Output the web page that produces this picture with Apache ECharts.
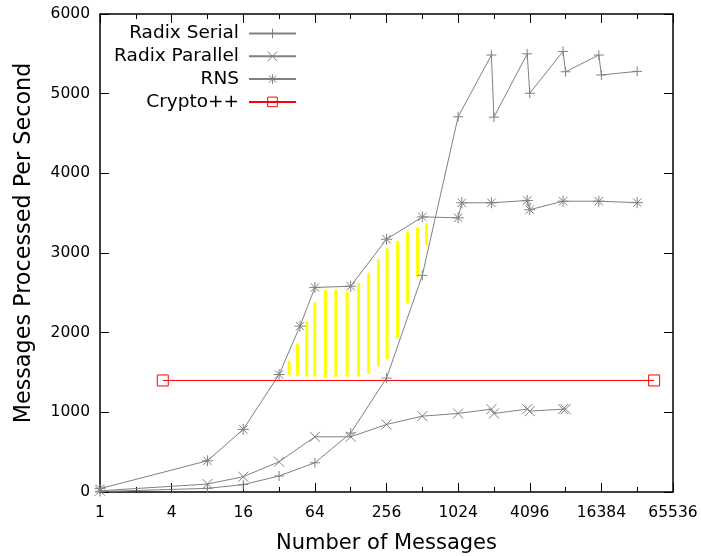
<!DOCTYPE html>
<html>
<head>
<meta charset="utf-8">
<script src="https://cdn.jsdelivr.net/npm/echarts@6/dist/echarts.min.js"></script>
<style>
  html, body { margin: 0; padding: 0; background: #fff; }
  #chart { width: 701px; height: 556px; }
</style>
</head>
<body>
<div id="chart"></div>
<script>
// Throughput versus batch size (messages), log2 x axis.
const serialX   = [1, 8, 16, 32, 64, 128, 256, 512, 1024, 1950, 2048, 3900, 4096, 7800, 8192, 15600, 16384, 32768];
const serialY   = [5, 46, 92, 201, 367, 740, 1430, 2720, 4710, 5485, 4705, 5500, 5005, 5530, 5275, 5485, 5235, 5280];

const parallelX = [1, 8, 16, 32, 64, 128, 256, 512, 1024, 1950, 2048, 3900, 4096, 7800, 8192];
const parallelY = [15, 100, 192, 380, 693, 693, 848, 952, 986, 1040, 986, 1040, 1015, 1040, 1040];

const rnsX      = [1, 8, 16, 32, 48, 64, 128, 256, 512, 1024, 1100, 1950, 3900, 4096, 7800, 15600, 32768];
const rnsY      = [42, 392, 786, 1475, 2082, 2567, 2583, 3173, 3453, 3442, 3630, 3630, 3659, 3543, 3650, 3650, 3632];

const cryptoX   = [3.37, 45500];
const cryptoY   = [1400, 1400];

// Highlighted band between the RNS curve and the baseline / serial curve
const bandX     = [38.8, 45.6, 54.7, 63.9, 78.4, 96.1, 119.6, 149.2, 181, 218.9, 259, 317, 385, 467, 556];
const bandLow   = [1469, 1460, 1447, 1447, 1440, 1447, 1447, 1447, 1481, 1582, 1666, 1937, 2369, 2702, 3100];
const bandHigh  = [1648, 1858, 2138, 2381, 2535, 2544, 2514, 2620, 2753, 2921, 3059, 3151, 3263, 3322, 3373];

const xTickExponents = { min: 0, max: 16, step: 2 };   // 1 .. 65536
const yTicks = { min: 0, max: 6000, step: 1000 };

const FONT = 'DejaVu Sans';
const GRAY = '#808080';

const pair = (xs, ys) => xs.map((x, i) => [x, ys[i]]);

// Marker outlines in the style of classic plotting point types
const SYM_PLUS  = 'path://M0,5L10,5M5,0L5,10';
const SYM_CROSS = 'path://M0,0L10,10M0,10L10,0';
const SYM_STAR  = 'path://M0,5L10,5M5,0L5,10M1.2,1.2L8.8,8.8M1.2,8.8L8.8,1.2';
const SYM_BOX   = 'path://M0,0L10,0L10,10L0,10Z';

function lineSeries(name, data, symbol, color, size) {
  return {
    name, type: 'line', data,
    xAxisIndex: 0, yAxisIndex: 0,
    symbol, symbolSize: size, showSymbol: true,
    symbolKeepAspect: true,
    lineStyle: { color, width: 1 },
    itemStyle: { color: 'none', borderColor: color, borderWidth: 1 },
    emphasis: { disabled: true },
    z: 3
  };
}

const chart = echarts.init(document.getElementById('chart'), null, { renderer: 'canvas' });

const tickAxisCommon = {
  type: 'value',
  gridIndex: 0,
  min: xTickExponents.min,
  max: xTickExponents.max,
  interval: xTickExponents.step,
  splitLine: { show: false },
  axisLine: { show: false },
  axisTick: { show: true, inside: true, length: 9, lineStyle: { color: '#000', width: 1 } },
  minorTick: { show: true, splitNumber: 2, length: 5, lineStyle: { color: '#000', width: 1 } },
  minorSplitLine: { show: false }
};

chart.setOption({
  animation: false,
  backgroundColor: '#fff',
  textStyle: { fontFamily: FONT },
  grid: { left: 100, right: 28, top: 14, bottom: 64, containLabel: false, outerBoundsMode: 'none' },
  legend: {
    orient: 'vertical',
    right: 404,
    top: 24,
    padding: 0,
    align: 'right',
    itemGap: 3.8,
    itemWidth: 47,
    itemHeight: 12,
    selectedMode: false,
    data: ['Radix Serial', 'Radix Parallel', 'RNS', 'Crypto++'],
    textStyle: { fontFamily: FONT, fontSize: 18.5, color: '#000', lineHeight: 18, padding: [0, 5, 0, 0] },
    itemStyle: { borderWidth: 1 }
  },
  xAxis: [
    {
      // data axis (base-2 logarithmic)
      type: 'log', logBase: 2, gridIndex: 0,
      min: 1, max: 65536, position: 'bottom',
      axisLine: { show: true, onZero: false, lineStyle: { color: '#000', width: 1.5 } },
      axisTick: { show: false }, axisLabel: { show: false },
      splitLine: { show: false }, minorTick: { show: false }
    },
    Object.assign({}, tickAxisCommon, {
      position: 'bottom',
      name: 'Number of Messages',
      nameLocation: 'middle',
      nameGap: 41,
      nameTextStyle: { fontFamily: FONT, fontSize: 21, color: '#000' },
      axisLabel: {
        show: true, margin: 13, color: '#000', fontFamily: FONT, fontSize: 15.5,
        formatter: v => String(Math.round(Math.pow(2, v)))
      }
    }),
    Object.assign({}, tickAxisCommon, {
      position: 'top',
      axisLine: { show: true, onZero: false, lineStyle: { color: '#000', width: 1.5 } },
      axisLabel: { show: false }
    })
  ],
  yAxis: [
    {
      type: 'value', gridIndex: 0, position: 'left',
      min: yTicks.min, max: yTicks.max, interval: yTicks.step,
      name: 'Messages Processed Per Second',
      nameLocation: 'middle', nameGap: 65,
      nameTextStyle: { fontFamily: FONT, fontSize: 22.3, color: '#000', padding: [0, 0, 0, 20] },
      axisLine: { show: true, onZero: false, lineStyle: { color: '#000', width: 1.5 } },
      axisTick: { show: true, inside: true, length: 9, lineStyle: { color: '#000', width: 1 } },
      axisLabel: { margin: 10, color: '#000', fontFamily: FONT, fontSize: 15.5, formatter: v => String(v) },
      splitLine: { show: false }
    },
    {
      type: 'value', gridIndex: 0, position: 'right',
      min: yTicks.min, max: yTicks.max, interval: yTicks.step,
      axisLine: { show: true, onZero: false, lineStyle: { color: '#000', width: 1.5 } },
      axisTick: { show: true, inside: true, length: 9, lineStyle: { color: '#000', width: 1 } },
      axisLabel: { show: false },
      splitLine: { show: false }
    }
  ],
  series: [
    {
      name: 'band',
      type: 'custom',
      xAxisIndex: 0, yAxisIndex: 0,
      data: bandX.map((x, i) => [x, bandLow[i], bandHigh[i]]),
      encode: { x: 0, y: [1, 2] },
      silent: true,
      z: 1,
      renderItem(params, api) {
        const top = api.coord([api.value(0), api.value(2)]);
        const bot = api.coord([api.value(0), api.value(1)]);
        return {
          type: 'rect',
          shape: { x: top[0] - 1.5, y: top[1], width: 3, height: bot[1] - top[1] },
          style: { fill: '#ffff00' }
        };
      }
    },
    lineSeries('Radix Serial', pair(serialX, serialY), SYM_PLUS, GRAY, 10),
    lineSeries('Radix Parallel', pair(parallelX, parallelY), SYM_CROSS, GRAY, 10),
    lineSeries('RNS', pair(rnsX, rnsY), SYM_STAR, GRAY, 11),
    lineSeries('Crypto++', pair(cryptoX, cryptoY), SYM_BOX, '#ff0000', 11)
  ]
});
</script>
</body>
</html>
